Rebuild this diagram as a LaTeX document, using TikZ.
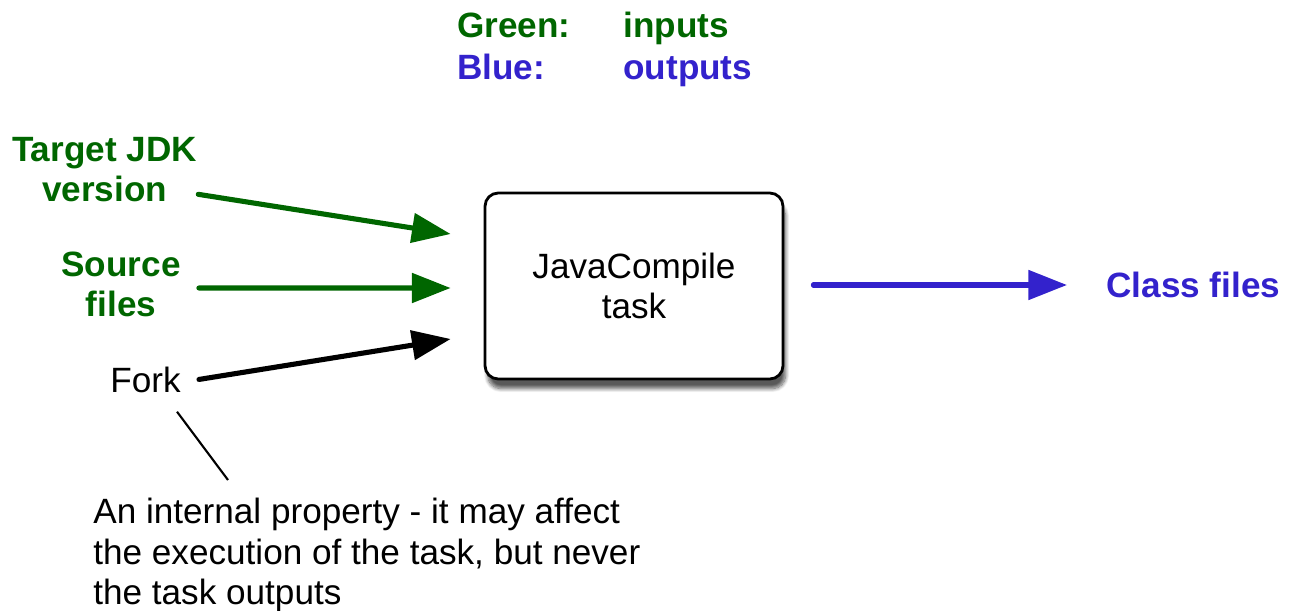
\documentclass[tikz,border=0pt]{standalone}
\usepackage{fontspec}
\setmainfont{Liberation Sans}
\usepackage{xcolor}
\usepackage{tikz}
\usetikzlibrary{arrows.meta,shadows.blur}
\definecolor{ingreen}{HTML}{006600}
\definecolor{outblue}{HTML}{3322CC}
\tikzset{
  lab/.style={inner sep=0pt, font=\fontsize{20}{23}\selectfont\bfseries, align=center},
  txt/.style={inner sep=0pt, font=\fontsize{20}{23}\selectfont, align=left},
  taskbox/.style={draw=black, line width=1.6pt, fill=white, rounded corners=7.5pt,
    minimum width=5.96cm, minimum height=3.72cm, align=center,
    font=\fontsize{20}{23}\selectfont,
    blur shadow={shadow xshift=1.5pt, shadow yshift=-5.5pt, shadow blur steps=10, shadow opacity=65}},
  arr/.style={line width=2.9pt, line cap=round, -{Triangle[length=22pt,width=16.5pt]}},
}

\begin{document}
\begin{tikzpicture}[x=0.02cm, y=-0.02cm]
\useasboundingbox (0,0) rectangle (1293,611);

% legend
\node[lab, text=ingreen, anchor=base west] (greenkey) at (457,38) {Green:};
\node[lab, text=ingreen, anchor=base west] (greenval) at (623,38) {inputs};
\node[lab, text=outblue, anchor=base west] (bluekey) at (457,80) {Blue:};
\node[lab, text=outblue, anchor=base west] (blueval) at (623,80) {outputs};

% task
\node[taskbox] (task) at (634,286) {JavaCompile\\task};

% inputs
\node[lab, text=ingreen] (jdk) at (104.5,169.5) {Target JDK\\version};
\node[lab, text=ingreen] (src) at (121,284.5) {Source\\files};
\node[txt, anchor=base] (fork) at (145.5,392) {Fork};

\draw[arr, ingreen] ([shift={(1,-8)}]jdk.south east) -- ([shift={(-33,-52)}]task.west);
\draw[arr, ingreen] ([shift={(18,3.5)}]src.east) -- ([shift={(-33,2)}]task.west);
\draw[arr, black] ([shift={(18,0)}]fork.east) -- ([shift={(-33,53)}]task.west);

% output
\node[lab, text=outblue, anchor=west] (cls) at (1106,285) {Class files};
\draw[arr, outblue] ([shift={(29,-1)}]task.east) -- ([shift={(-39,0)}]cls.west);

% note
\node[txt, anchor=north west] (note) at (93,498)
  {An internal property - it may affect\\the execution of the task, but never\\the task outputs};
\draw[line width=1.2pt] ([shift={(31.5,19)}]fork.south) -- ([shift={(135,-18)}]note.north west);
\end{tikzpicture}
\end{document}
